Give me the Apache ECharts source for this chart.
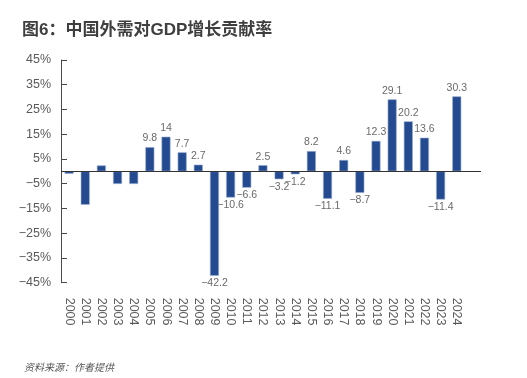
<!DOCTYPE html>
<html>
<head>
<meta charset="utf-8">
<script src="https://cdn.jsdelivr.net/npm/echarts@6/dist/echarts.min.js"></script>
<style>
html,body{margin:0;padding:0;background:#fff;}
#c{width:527px;height:378px;}
</style>
</head>
<body>
<div id="c"></div>
<script>
var titleText = '图6：中国外需对GDP增长贡献率';
var sourceText = '资料来源：作者提供';
var years = ['2000','2001','2002','2003','2004','2005','2006','2007','2008','2009','2010','2011','2012','2013','2014','2015','2016','2017','2018','2019','2020','2021','2022','2023','2024'];
var values = [-1.0,-13.5,2.4,-5.1,-5.1,9.8,14,7.7,2.7,-42.2,-10.6,-6.6,2.5,-3.2,-1.2,8.2,-11.1,4.6,-8.7,12.3,29.1,20.2,13.6,-11.4,30.3];
var firstLabeledYear = 2005;
var yTicks = {min:-45, max:45, interval:10};

function fmtMinus(s){ return String(s).replace('-', '\u2212'); }

var cats = years.concat(['']);
var data = values.map(function(v, i){
  var show = parseInt(years[i], 10) >= firstLabeledYear;
  return {
    value: v,
    label: {
      show: show,
      position: v >= 0 ? 'top' : 'bottom',
      distance: v >= 0 ? 3 : 2
    }
  };
});

var chart = echarts.init(document.getElementById('c'), null, {renderer:'canvas'});
var font = '"Liberation Sans", Arial, Helvetica, sans-serif';
chart.setOption({
  animation: false,
  backgroundColor: '#fff',
  title: [{
    text: titleText,
    left: 17, top: 17,
    textStyle: {fontFamily: '"Liberation Sans", "Noto Sans CJK SC", sans-serif', fontSize: 17, fontWeight: 'bold', color: '#3f3f3f'}
  }, {
    text: sourceText,
    left: 19, top: 357,
    textStyle: {fontFamily: '"Noto Sans CJK SC", sans-serif', fontSize: 10, fontWeight: 'normal', fontStyle: 'italic', color: '#555'}
  }],
  grid: {left: 61, top: 60, right: 46, bottom: 95.3, containLabel: false},
  xAxis: {
    type: 'category',
    data: cats,
    axisLine: {show: false, onZero: false},
    axisTick: {show: false},
    axisLabel: {
      rotate: -90, margin: 15, interval: 0,
      fontFamily: font, fontSize: 12.5, color: '#5a5a5a'
    }
  },
  yAxis: {
    type: 'value',
    min: yTicks.min, max: yTicks.max, interval: yTicks.interval,
    splitLine: {show: false},
    axisLine: {show: true, lineStyle: {color: '#4a4a4a', width: 1}},
    axisTick: {show: true, inside: true, length: 6, lineStyle: {color: '#4a4a4a'}},
    axisLabel: {
      margin: 10, fontFamily: font, fontSize: 12.5, color: '#5a5a5a',
      formatter: function(v){ return fmtMinus(v) + '%'; }
    }
  },
  series: [{
    type: 'bar',
    data: data,
    barWidth: 9,
    itemStyle: {color: '#244a8f', borderColor: '#9aafd6', borderWidth: 0.6},
    label: {
      fontFamily: font, fontSize: 10.5, color: '#6a6a6a',
      formatter: function(p){ return fmtMinus(p.value); }
    },
    markLine: {
      silent: true,
      symbol: 'none',
      label: {show: false},
      lineStyle: {color: '#333', width: 1, type: 'solid'},
      data: [{yAxis: 0}]
    }
  }]
});
</script>
</body>
</html>
